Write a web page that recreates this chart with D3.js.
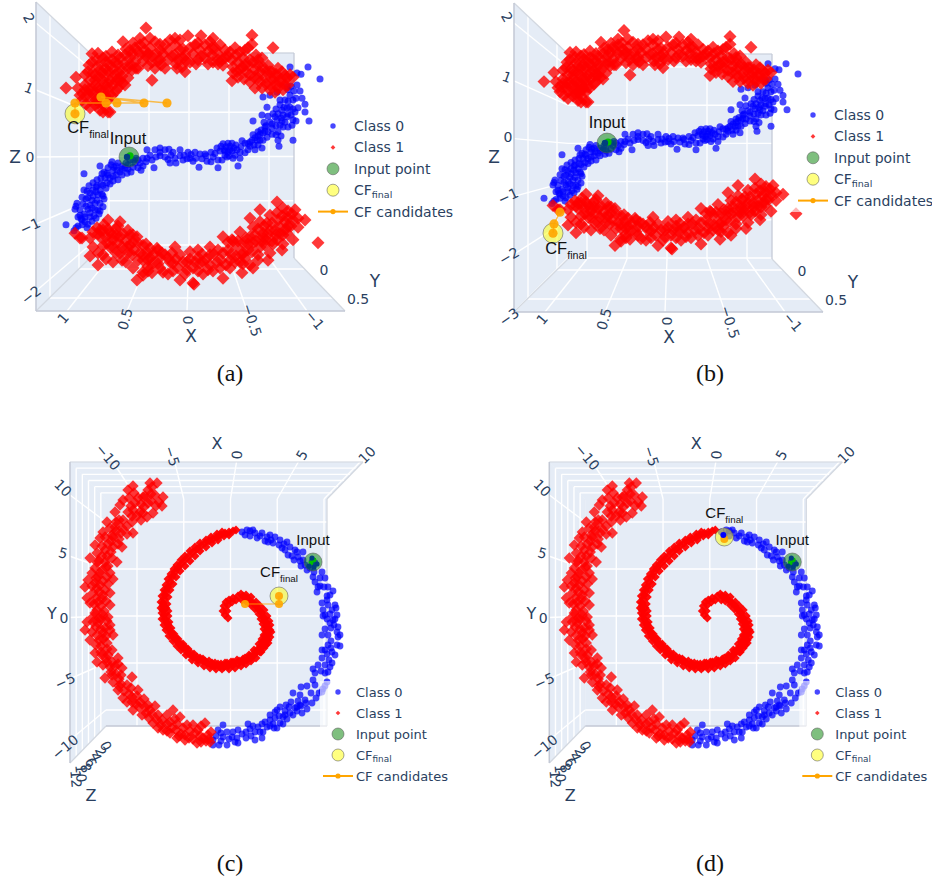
<!DOCTYPE html>
<html><head><meta charset="utf-8">
<script src="https://cdn.jsdelivr.net/npm/d3@7"></script>
<style>html,body{margin:0;padding:0;background:#fff}svg{display:block}</style>
</head><body><div id="chart"></div>
<script>
// ---------- S-curve data: [X, Z] ----------
const sClass0 = [[1.22,-1.13],[1.14,-1.23],[1.12,-1.18],[1.10,-1.15],[1.06,-1.13],[1.03,-1.08],[1.07,-1.03],[1.08,-.97],[1.03,-1.00],[.98,-.93],[.93,-.88],[1.00,-.87],[1.02,-.82],[1.05,-.78],[1.12,-.82],[1.13,-.87],[1.11,-.77],[1.06,-.67],[1.00,-.68],[.95,-.65],[.91,-.72],[.88,-.77],[.85,-.83],[.89,-.95],[.92,-1.02],[.96,-1.07],[1.01,-1.18],[.95,-.55],[1.01,-.57],[1.04,-.55],[.99,-.48],[.95,-.43],[.91,-.48],[.88,-.55],[.85,-.47],[.81,-.43],[.78,-.35],[.75,-.32],[.81,-.27],[.87,-.35],[.91,-.38],[1.04,-.28],[.88,-.15],[.84,-.25],[.80,-.18],[.77,-.13],[.74,-.17],[.71,-.22],[.68,-.25],[.70,-.10],[.66,-.15],[.63,-.18],[.61,-.27],[.57,-.25],[.55,-.17],[.60,-.13],[.53,-.10],[.50,-.18],[.47,-.22],[.45,-.15],[.50,-.05],[.45,-.02],[.41,.12],[.41,-.02],[.38,.03],[.34,-.18],[.33,.12],[.28,.15],[.28,.02],[.23,0],[.23,.12],[.19,.13],[.17,.03],[.13,-.02],[.18,-.10],[.12,-.10],[.08,.12],[.04,.03],[.05,-.05],[0,.08],[-.02,-.02],[-.05,-.07],[-.11,-.17],[-.07,.08],[-.12,.05],[-.17,.05],[-.19,-.07],[-.23,-.08],[-.23,.08],[-.30,-.18],[-.29,.15],[-.34,-.05],[-.37,.03],[-.40,.23],[-.42,.12],[-.45,-.02],[-.50,-.15],[-.52,-.02],[-.57,.23],[-.60,.12],[-.67,.12],[-.70,.20],[-.74,.15],[-.75,.28],[-.77,.43],[-.72,.38],[-.67,.32],[-.62,.25],[-.49,.12],[-.53,.17],[-.57,.07],[-.38,.17],[-.44,.23],[-.91,.18],[-.90,.28],[-1.05,.28],[-.65,.60],[-.74,.70],[-.79,.83],[-.75,1.00],[-.82,1.03],[-.89,1.08],[-.99,1.17],[-1.02,1.50],[-1.20,1.50],[-1.32,1.30],[-1.13,1.38],[-1.09,1.40],[-1.09,1.20],[-1.14,.98],[-1.17,.88],[-1.10,.82],[-1.17,.75],[-1.21,.60],[-1.05,.62],[-1.04,.53],[-.95,.50],[-.90,.42],[-.99,.67],[-1.02,.83],[-.97,.95],[-.94,.78],[-.87,.67],[-.82,.58],[-.77,.50],[-.70,.42],[-.65,.37],[-.69,.28],[-.79,.33],[-.75,.40],[-.89,.62],[-.95,.70],[-.99,.82],[-.92,.87],[-1.02,1.03],[-1.05,.95],[-1.00,1.12],[-1.07,.75],[-.97,.58],[-.92,.53],[-.84,.48],[-.80,.42],[-.88,.37],[-.62,.18],[-.70,.35],[-.36,.12],[-.40,.08],[-.44,.10],[-.47,.03],[-.39,0],[-.42,.18],[-.35,.22],[.98,-.80],[.93,-.77],[.90,-.63],[.96,-.72],[.92,-.58],[.83,-.35],[.86,-.28],[.75,-.22],[.72,-.15],[.62,-.10],[.58,-.05],[.52,-.02],
[.98,-.6],[.96,-.85],[.94,-.98],[.98,-1.0],[1.04,-.95],[1.0,-1.12],[1.06,-1.05],[1.08,-.88],[.92,-.5],[.86,-.62],[.84,-.7],[.82,-.52],[.78,-.45],[.75,-.4],[.7,-.38],[.72,-.3],[.66,-.3],[.66,-.2],[.6,-.2],[.55,-.05],[.48,-.1],[.42,-.08],[.36,-.05],[.32,0],[.28,.08],[.2,-.04],[.15,.08],[.08,.02],[.01,-.03],[-.03,.04],[-.08,-.02],[-.14,-.03],[-.18,.02],[-.25,0],[-.27,.06],[-.3,-.05],[-.32,.1],[-.33,.18],[-.37,.1],[-.41,.02],[-.46,.15],[-.48,.2],[-.52,.08],[-.54,.27],[-.6,.22],[-.64,.28],[-.66,.2],[-.72,.28],[-.73,.45],[-.78,.52],[-.84,.55],[-.85,.72],[-.88,.8],[-.9,.72],[-.93,.65],[-.96,.83],[-1.0,.72],[-1.0,.93],[-1.03,.7],[-1.05,.8],[-1.08,.98],[-1.06,1.1],[-1.03,1.18],[-.94,.6],[-.88,.52],[-.84,.38],[-.76,.58],[-.8,.68],[-.92,.95],[-1.12,1.1],[-1.08,.6],[-1.0,.5],[-.93,.35],[.88,-.9],[.85,-.65],[.87,-.45],[.8,-.3],[.76,-.08],[.9,-.88],[1.02,-.7],[1.1,-1.0]];
const sClass1Upper = [[.42,2.15],[1.22,1.15],[1.12,1.33],[.96,1.72],[.99,1.53],[.65,1.92],[.36,1.28],[-.44,1.27],[0,2.02],[-.13,2.02],[-.64,2.03],[-.85,1.82],[-.64,1.88],[-.68,1.70],[1.08,1.03],[1.03,1.12],[.98,.95],[.93,.87],[.88,.78],[.80,.75],[.85,.87],[.80,.95],[.76,1.03],[.70,1.15],[.63,1.20],[.68,1.28],[.73,1.37],[.78,1.28],[.83,1.20],[.88,1.12],[.93,1.20],[.98,1.28],[1.03,1.20],[1.10,1.15],[.93,1.37],[.88,1.45],[.83,1.48],[.78,1.53],[.73,1.58],[.68,1.65],[.63,1.70],[.58,1.78],[.53,1.82],[.48,1.87],[.43,1.78],[.38,1.82],[.33,1.92],[.28,1.78],[.23,1.87],[.18,1.95],[.13,1.87],[.08,1.78],[.03,1.70],[-.02,1.82],[-.07,1.87],[-.12,1.78],[-.17,1.87],[-.22,1.92],[-.27,1.82],[-.32,1.87],[-.37,1.78],[-.42,1.75],[-.47,1.82],[-.52,1.75],[-.57,1.78],[-.62,1.62],[-.70,1.53],[-.74,1.65],[-.80,1.53],[-.84,1.42],[-.90,1.48],[-.94,1.42],[-.99,1.32],[-1.02,1.37],[-.92,1.25],[-.87,1.32],[-.82,1.20],[-.77,1.32],[-.70,1.32],[-.67,1.45],[-.62,1.37],[-.57,1.53],[-.52,1.45],[-.50,1.58],[-.44,1.62],[-.37,1.65],[-.30,1.62],[-.24,1.70],[-.17,1.65],[-.10,1.62],[-.02,1.58],[.05,1.65],[.13,1.70],[.20,1.62],[.28,1.62],[.36,1.58],[.33,1.48],[.23,1.48],[.48,1.70],[.53,1.58],[.60,1.48],[.66,1.45],[.80,1.37],[.88,1.32],[1.00,1.42],[.96,1.58],[.91,1.62],[.85,1.65],[.76,1.75],[.58,1.65],[.50,1.48],[.90,1.03],[1.02,.88],[1.06,.95],[.83,1.03],[.88,.95],[-.74,1.15],[-.82,1.12],[-.90,1.15],[-.97,1.20],[-1.05,1.33],[-.60,1.82],[-.25,1.98],[.08,1.95],[.48,1.98],[.38,1.98],[.90,1.73],[1.03,1.37],[.85,.75],[.78,.75],[.98,.82],[.13,1.98],[-.35,1.53],[-.67,1.15],[-.62,1.25],[-.49,1.42],[-.54,1.50],[-.87,1.08],[-1.00,1.20],[-.25,1.58],[.03,1.42],[.11,1.48],
[.95,1.05],[.90,1.15],[.85,1.10],[.80,1.15],[.75,1.20],[.72,1.10],[.78,1.05],[.84,1.0],[.92,.95],[.96,1.13],[1.0,1.05],[.9,.9],[.85,.95],[.93,1.28],[.86,1.28],[.8,1.22],[.72,1.28],[.66,1.35],[.6,1.32],[.56,1.45],[.7,1.42],[.75,1.47],[.8,1.43],[.86,1.4],[.9,1.52],[.82,1.58],[.76,1.62],[.7,1.55],[.64,1.55],[.58,1.55],[.52,1.48],[.45,1.6],[.42,1.68],[.56,1.72],[.5,1.76],[.44,1.9],[.4,1.72],[.36,1.68],[.32,1.72],[.28,1.88],[.25,1.72],[.2,1.78],[.16,1.68],[.1,1.62],[.05,1.8],[.02,1.6],[-.05,1.72],[-.08,1.55],[-.13,1.68],[-.2,1.76],[-.24,1.82],[-.3,1.72],[-.34,1.62],[-.4,1.68],[-.45,1.5],[-.48,1.7],[-.55,1.65],[-.58,1.42],[-.6,1.53],[-.65,1.58],[-.72,1.42],[-.75,1.5],[-.78,1.42],[-.84,1.3],[-.88,1.38],[-.93,1.3],[-.97,1.36],[-.78,1.22],[-.72,1.25],[-.66,1.33],[-.56,1.3],[-.5,1.33],[-.45,1.4],[.12,1.55],[.27,1.53],[.4,1.52],[.06,1.5],[-.2,1.55],[.66,1.22],[.7,1.7],[.62,1.8],[.7,1.3],[.99,1.13],[.95,1.4],[1.05,1.05],[.82,1.68],[.55,1.9],[.3,1.6],[-.1,1.9],[-.3,1.55],[-.88,1.22],[-.95,1.12],[-.82,1.42],[-.7,1.62]];
const sClass1Lower = [[1.13,-1.27],[1.06,-1.35],[.98,-1.35],[.98,-1.65],[.90,-1.80],[.85,-1.63],[.75,-1.75],[.66,-1.72],[.68,-1.08],[.80,-1.05],[.91,-1.18],[.88,-1.33],[.81,-1.43],[.75,-1.50],[.76,-1.30],[.68,-1.33],[.60,-1.22],[.51,-1.33],[.45,-1.47],[.58,-1.47],[.66,-1.50],[.56,-1.63],[.45,-1.72],[.38,-1.68],[.31,-1.52],[.13,-1.50],[.25,-1.92],[.36,-1.93],[.51,-2.05],[.45,-1.97],[.08,-2.05],[.01,-1.75],[.18,-1.75],[.28,-1.68],[.40,-1.83],[-.05,-2.10],[-.02,-1.58],[-.10,-1.67],[-.22,-1.50],[-.35,-1.33],[-.44,-1.38],[-.52,-1.25],[-.62,-1.02],[-.72,-.88],[-.89,-.75],[-1.07,-.88],[-1.17,-1.05],[-1.10,-1.17],[-1.05,-1.38],[-1.30,-1.43],[-.94,-1.55],[-.82,-1.60],[-.65,-1.85],[-.54,-1.93],[-.35,-2.02],[-.62,-1.80],[.01,-1.88],[-.15,-1.75],[-.29,-1.75],[-.42,-1.72],[-.55,-1.60],[-.65,-1.43],[-.75,-1.33],[-.89,-1.38],[-.99,-1.27],[-.79,-1.10],[-.89,-.93],[-.99,-1.00],[-.75,-1.27],[-.62,-1.33],[-.49,-1.50],[-.35,-1.60],[-.22,-1.63],[-.65,-1.17],[-.95,-.85],[-1.05,-1.05],[-.92,-1.17],[-.82,-1.22],[-.72,-1.50],[-.55,-1.43],[-.12,-1.77],[.15,-1.77],[.35,-1.77],[.30,-1.55],[.45,-1.63],[.61,-1.50],[.75,-1.38],[.88,-1.22],[1.08,-1.35],[-.06,-2.12],[.45,-1.92],[.38,-1.52],[.23,-1.63],[.08,-1.63],[-.07,-1.75],[-.22,-1.80],[-.32,-1.85],[-.47,-1.75],[-.57,-1.68],[-.70,-1.63],[-.77,-1.47],[-.87,-1.22],[-.97,-1.08],[-.82,-.97],[-.72,-1.08],[-.54,-1.63],[-.67,-1.30],[.58,-1.30],[.72,-1.20],[.84,-1.13],[.55,-1.42],[.48,-1.60],[.40,-1.60],[.15,-1.90],[-.15,-1.95],[-.25,-1.90],[-.85,-1.45],[-.95,-1.30],[-1.00,-1.15],[-.88,-1.30],[-.78,-1.38],[-.60,-1.55],[-.40,-1.55],[-.45,-1.40],
[.9,-1.28],[.85,-1.22],[.8,-1.2],[.82,-1.33],[.78,-1.25],[.72,-1.3],[.7,-1.42],[.78,-1.5],[.72,-1.6],[.68,-1.6],[.62,-1.4],[.65,-1.28],[.55,-1.3],[.5,-1.43],[.54,-1.55],[.6,-1.6],[.5,-1.72],[.42,-1.45],[.4,-1.72],[.34,-1.62],[.3,-1.78],[.26,-1.6],[.2,-1.68],[.16,-1.6],[.12,-1.7],[.1,-1.85],[.05,-1.75],[.03,-1.95],[-.02,-1.7],[-.05,-1.85],[-.1,-1.9],[-.14,-1.62],[-.18,-1.7],[-.2,-1.88],[-.26,-1.62],[-.3,-1.55],[-.33,-1.72],[-.38,-1.8],[-.4,-1.42],[-.43,-1.62],[-.48,-1.65],[-.5,-1.4],[-.52,-1.75],[-.58,-1.35],[-.6,-1.45],[-.64,-1.58],[-.68,-1.4],[-.7,-1.2],[-.74,-1.4],[-.76,-1.15],[-.8,-1.28],[-.84,-1.1],[-.84,-1.4],[-.9,-1.05],[-.92,-1.28],[-.94,-.98],[-.98,-1.2],[-1.0,-.9],[-1.03,-1.15],[-1.1,-1.02],[-1.04,-.95],[-.95,-1.45],[.95,-1.25],[.7,-1.15],[.62,-1.75],[.85,-1.48],[.9,-1.6],[.95,-1.5],[.82,-1.7],[.55,-1.85],[.4,-1.9],[.28,-1.85],[.2,-1.95],[-.1,-1.55],[-.42,-1.85],[-.55,-1.78],[-.7,-1.72],[-.8,-1.72]];
const sInput = [[.59,0],[.59,-.05]];
const sInputCore = [[.58,.02],[.58,-.03]];
const sInputDot = [[.61,0],[.61,-.05]];
const sCandidatesA = [[.21,.90],[.87,1.00],[.44,.90],[.71,.90],[.82,.90],[1.13,.90],[1.13,.72]];
const sCandidatesB = [[1.06,-1.40],[1.12,-1.63],[1.13,-1.81]];
const sTicksX = [1,.5,0,-.5,-1];
const sTicksXLabels = ["1","0.5","0","\u22120.5","\u22121"];
const sTicksY = [0,.5];
const sTicksZA = [2,1,0,-1,-2];
const sTicksZB = [2,1,0,-1,-2,-3];

// ---------- spiral data: [X, Y] ----------
const spClass0 = [[1.1,8.4],[1.9,8.5],[1.4,8.1],[2.4,8.3],[3.1,8.3],[3.6,7.9],[3.9,8.1],[4.4,7.9],[3.4,7.5],[4.2,7.3],[4.9,7.6],[5.6,7.4],[5.1,6.8],[5.9,6.9],[6.4,6.6],[5.7,6.1],[6.1,6.0],[7.2,6.4],[7.2,5.6],[7.4,5.1],[8.1,5.4],[8.4,5.3],[7.6,4.6],[8.2,3.9],[8.4,3.4],[9.1,4.4],[9.4,3.8],[8.6,2.4],[9.7,2.9],[10.2,2.5],[9.9,2.1],[9.6,1.6],[9.1,1.3],[10.4,1.1],[9.2,.6],[10.1,.6],[10.6,.1],[9.4,.1],[10.2,-.4],[10.7,-1.1],[9.4,-1.3],[9.1,-1.9],[9.7,-1.9],[10.9,-1.9],[10.7,-2.1],[9.7,-2.9],[9.1,-3.4],[10.6,-2.9],[10.9,-3.0],[10.1,-3.6],[10.4,-3.9],[9.1,-4.2],[10.1,-4.7],[9.4,-4.9],[8.7,-4.9],[8.2,-5.3],[9.4,-5.7],[9.7,-5.6],[8.2,-6.4],[7.6,-7.0],[8.4,-6.9],[7.0,-7.1],[6.2,-7.7],[6.9,-7.9],[8.8,-7.7],[8.5,-8.2],[8.1,-8.7],[7.6,-9.3],[6.7,-8.5],[6.0,-8.6],[6.4,-9.2],[4.9,-9.1],[4.6,-9.4],[7.1,-9.7],[5.9,-9.7],[5.2,-10.1],[4.4,-10.2],[6.2,-9.9],[3.9,-10.4],[4.9,-10.7],[4.6,-11.2],[3.6,-11.1],[2.7,-11.1],[3.2,-11.6],[2.4,-11.6],[3.1,-12.2],[2.4,-12.4],[1.7,-10.8],[1.5,-11.6],[1.5,-12.2],[.7,-11.4],[.1,-12.1],[.7,-12.7],[-.4,-12.9],[-1.2,-12.9],[-.8,-10.9],[-1.3,-11.4],[-.8,-12.1],[-1.8,-12.4],[-1.8,-12.9],[.2,-11.6],[.4,-12.6],[5.4,-9.5],[5.6,-10.3],[6.6,-9.5],[4.8,-10.0],[4.2,-10.8],[5.2,-10.8],[3.9,-11.0],[6.9,-8.9],[8.0,-7.7],[7.4,-8.4],[10.0,-1.2],[9.6,-.3],[9.9,.2],[10.3,-.9],[10.5,.8],[9.7,1.1],[8.7,2.9],[9.6,-3.8],[10.0,-3.2],[9.9,-5.1],[4.0,7.6],[5.3,7.2],[6.7,5.9],[6.6,6.4],[7.9,4.8],[8.9,3.8],[2.9,8.0],[1.6,8.6],[2.2,8.6],[9.6,-6.6],[9.4,-7.0],[9.2,-7.3],[9.1,-7.6],
[7.5,-8.7],[7.0,-9.0],[5.8,-9.1],[5.5,-8.9],[4.4,-9.6],[3.9,-9.9],[3.4,-10.6],[3.1,-10.8],[2.9,-11.6],[2.2,-11.0],[1.9,-11.3],[1.1,-11.8],[.6,-12.2],[-.2,-12.3],[-.4,-11.6],[-1.0,-12.5],[-1.5,-12.0],[-1.0,-11.7],[2.0,-12.0],[4.3,-11.2],[5.4,-9.9],[6.6,-9.1],[8.4,-5.7],[9.0,-5.5],[9.8,-4.4],[9.4,-3.4],[10.6,-1.6],[10.0,-2.5],[9.9,-.7],[10.4,-.3],[9.2,0],[9.6,2.0],[9.3,2.9],[8.9,3.0],[8.3,4.4],[7.0,5.0],[6.9,5.5],[6.3,5.6],[5.4,6.6],[4.8,7.1],[3.7,7.4],[2.6,7.8],[1.9,8.0]];
const spClass1Inner = [[-.3,-.2],[-.6,.1],[-.8,.5],[-.7,1.0],[-.5,1.4],[-.2,1.6],[.2,1.8],[.7,2.0],[1.2,2.0],[1.6,1.8],[1.9,1.5],[2.2,1.3],[2.5,1.0],[2.8,.6],[3.1,.3],[3.3,-.2],[3.5,-.6],[3.7,-1.1],[3.7,-1.6],[3.6,-2.0],[3.4,-2.4],[3.2,-2.8],[3.0,-3.2],[2.6,-3.6],[2.3,-3.9],[2.0,-4.2],[1.6,-4.4],[1.2,-4.6],[.7,-4.8],[.2,-4.9],[-.3,-5.0],[-.7,-5.1],[-1.1,-5.1],[-1.6,-5.0],[-2.0,-4.9],[-2.4,-4.7],[-2.8,-4.5],[-3.3,-4.4],[-3.8,-4.1],[-4.2,-3.8],[-4.6,-3.4],[-4.9,-3.1],[-5.2,-2.8],[-5.5,-2.4],[-5.8,-2.1],[-6.0,-1.7],[-6.2,-1.3],[-6.4,-.7],[-6.6,-.3],[-6.7,.1],[-6.8,.6],[-6.8,1.0],[-6.8,1.3],[-6.7,1.7],[-6.6,2.1],[-6.5,2.5],[-6.3,2.9],[-6.1,3.4],[-5.9,3.9],[-5.6,4.4],[-5.3,4.8],[-5.0,5.2],[-4.6,5.6],[-4.2,6.0],[-3.8,6.4],[-3.4,6.7],[-3.0,7.0],[-2.6,7.3],[-2.2,7.5],[-1.8,7.7],[-1.4,7.9],[-1.0,8.1],[-.6,8.3],[-.2,8.4],[.2,8.5],[.5,8.6],[-6.9,.3],[-7.0,.8],[-7.0,1.4],[-6.9,2.0],[-6.7,2.6],[-6.5,3.1],[-6.3,3.7],[-6.0,4.2],[-5.7,4.7],[-5.4,5.1],[-5.0,5.6],[-4.6,6.0],[-4.1,6.5],[-3.6,6.9],[-3.1,7.3],[-2.5,7.6],[-2.0,7.9],[-1.4,8.2],[-.9,8.4],[-6.3,.5],[-6.4,1.2],[-6.3,1.9],[-6.1,2.6],[-5.8,3.2],[-5.5,3.9],[-5.1,4.5],[-4.6,5.0],[-4.1,5.5],[-3.6,6.0],[-3.1,6.5],[-2.5,6.9],[-1.9,7.3],[-1.3,7.6],[-.7,8.0],[-.2,8.1],[-6.3,-.9],[-5.9,-1.7],[-5.5,-2.2],[-5.0,-2.8],[-4.5,-3.2],[-4.0,-3.7],[-3.4,-4.1],[-2.8,-4.3],[-2.2,-4.5],[-1.6,-4.7],[-1.0,-4.8],[-.4,-4.7],[.2,-4.6],[.8,-4.5],[1.4,-4.2],[1.9,-4.0],[2.4,-3.6],[2.8,-3.2],[3.1,-2.6],[3.4,-2.0],[3.5,-1.5],[3.5,-1.0],[3.3,-.5],[3.9,-1.4],[3.9,-.9],[3.7,-2.4],[3.5,-2.9],[2.9,-3.6],
[-.4,.5],[-.3,1.1],[.1,1.4],[.5,1.6],[1.1,1.6],[1.5,1.5],[2.0,1.1],[2.4,.7],[2.8,.2],[3.0,-.3],[3.2,-.8],[3.3,-1.3],[3.3,-1.9],[3.1,-2.3],[2.8,-2.8],[2.3,-3.4],[1.8,-3.9],[1.2,-4.3],[.6,-4.4],[0,-4.6],[-.6,-4.7],[-1.3,-4.8],[-1.9,-4.7],[-2.6,-4.5],[-3.1,-4.2],[-3.7,-3.8],[-4.3,-3.3],[-4.8,-2.8],[-5.3,-2.3],[-5.7,-1.8],[-6.0,-1.2],[-6.2,-.6],[-6.3,0],[-6.5,.8],[1.0,2.2],[1.5,2.1],[2.0,1.9],[2.5,1.4],[2.9,1.0],[3.3,.6],[3.6,0],[3.8,-.5],[4.0,-1.6],[3.9,-2.1],[3.7,-2.7],[3.3,-3.2],[3.0,-3.6],[2.5,-4.2],[2.0,-4.5],[1.5,-4.8],[1.0,-5.0],[.4,-5.2],[-.2,-5.3],[-.9,-5.3],[-1.5,-5.3],[-2.1,-5.2],[-2.7,-5.0],[-3.3,-4.7],[-3.9,-4.4],[-4.5,-3.9],[-5.0,-3.4],[-5.4,-3.0],[-5.8,-2.5],[-6.2,-2.0],[-6.5,-1.4],[-6.7,-.9],[-6.9,-.3]];
const spClass1Outer = [[-8.1,13.3],[-7.4,13.3],[-9.8,13.0],[-10.3,12.6],[-6.8,11.9],[-7.6,12.1],[-8.3,12.6],[-8.3,11.3],[-6.9,11.0],[-7.8,10.3],[-8.4,9.9],[-9.1,10.4],[-9.3,11.8],[-9.6,11.3],[-10.8,11.6],[-11.6,10.4],[-11.1,11.1],[-10.3,10.4],[-9.9,9.4],[-9.8,8.3],[-10.8,9.6],[-10.9,8.8],[-12.4,9.4],[-12.1,8.8],[-12.8,8.4],[-13.1,7.8],[-11.9,8.1],[-10.9,6.9],[-11.8,6.9],[-13.6,7.1],[-12.6,6.6],[-13.4,6.3],[-14.1,5.8],[-12.6,5.4],[-11.9,5.8],[-11.4,5.4],[-13.6,4.8],[-12.9,4.6],[-13.9,4.3],[-12.1,4.3],[-11.8,3.7],[-14.3,3.6],[-14.6,2.9],[-13.6,3.3],[-13.1,3.1],[-12.6,2.6],[-12.1,2.3],[-13.8,2.3],[-14.4,1.8],[-14.1,1.3],[-13.3,1.4],[-12.1,1.1],[-13.4,.6],[-12.3,-.1],[-13.8,-.1],[-13.6,.3],[-14.4,-.6],[-14.6,-1.4],[-13.9,-1.6],[-14.1,-2.4],[-13.3,-.7],[-12.1,-.9],[-11.8,-1.9],[-12.8,-1.7],[-12.4,-2.7],[-11.9,-3.4],[-11.3,-4.2],[-13.6,-3.7],[-13.4,-4.6],[-12.9,-3.9],[-12.8,-4.9],[-12.1,-5.1],[-10.9,-5.2],[-12.6,-6.2],[-11.9,-5.9],[-11.8,-6.6],[-9.9,-6.1],[-10.4,-6.9],[-9.3,-7.4],[-11.3,-7.4],[-10.8,-8.2],[-9.9,-8.1],[-9.1,-8.6],[-9.8,-9.4],[-8.9,-9.9],[-8.1,-9.4],[-8.6,-9.1],[-7.3,-9.9],[-6.9,-10.4],[-7.8,-10.7],[-7.3,-11.2],[-5.8,-9.4],[-5.1,-10.1],[-6.1,-10.6],[-5.9,-11.2],[-6.8,-11.4],[-5.4,-12.2],[-4.6,-11.9],[-3.8,-10.9],[-2.6,-10.7],[-3.3,-11.4],[-3.4,-12.7],[-2.8,-12.2],[-2.1,-12.6],[-4.6,-12.4],[-6.1,-11.7],[-8.7,10.9],[-8.0,11.5],[-9.4,10.0],[-10.0,11.0],[-11.2,9.6],[-11.5,8.5],[-12.0,7.5],[-12.6,7.9],[-11.2,7.7],[-12.4,6.0],[-13.2,5.5],[-12.5,4.9],[-13.3,3.9],[-12.8,3.5],[-13.2,2.4],[-12.9,1.7],[-13.7,1.2],[-12.7,.5],[-13.0,-.3],[-13.5,-1.1],[-12.6,-1.2],[-13.2,-2.4],[-12.5,-2.0],[-13.0,-3.0],[-12.3,-3.9],[-12.4,-4.6],[-11.6,-5.0],[-11.2,-6.3],[-11.0,-6.8],[-10.7,-7.5],[-10.0,-7.2],[-10.4,-8.6],[-9.5,-8.8],[-8.7,-8.3],[-8.2,-10.2],[-7.6,-9.0],[-6.4,-9.9],[-5.4,-10.8],[-4.8,-11.2],[-4.1,-11.5],[-3.8,-12.3],[-3.1,-12.0],[-2.3,-11.9],[-2.0,-11.6],[-5.2,-12.0],
[-8.8,11.9],[-8.0,12.2],[-7.9,12.9],[-8.6,12.0],[-9.0,11.2],[-9.8,10.6],[-9.0,9.6],[-9.9,10.0],[-10.4,9.0],[-10.4,8.2],[-11.0,8.3],[-11.5,9.4],[-11.8,7.9],[-12.3,7.2],[-11.3,7.2],[-12.9,7.0],[-12.9,6.0],[-12.0,6.4],[-13.4,5.4],[-12.3,5.0],[-13.1,4.3],[-13.5,3.8],[-12.4,3.9],[-12.3,3.2],[-13.9,3.0],[-13.4,2.8],[-12.8,2.1],[-13.5,1.8],[-12.5,1.5],[-13.0,1.0],[-12.8,.1],[-13.2,-.2],[-13.8,-.6],[-12.4,-.5],[-13.0,-1.3],[-13.4,-1.9],[-12.1,-1.4],[-12.8,-2.3],[-13.5,-2.9],[-12.4,-3.3],[-13.0,-3.6],[-12.5,-4.2],[-11.9,-4.6],[-11.3,-4.8],[-12.0,-5.6],[-11.5,-5.8],[-11.0,-5.9],[-11.2,-7.0],[-10.2,-7.8],[-9.9,-8.6],[-9.4,-8.0],[-9.2,-9.1],[-8.3,-8.9],[-8.5,-9.7],[-7.9,-9.8],[-7.4,-10.4],[-7.0,-10.9],[-6.4,-10.8],[-6.4,-11.5],[-5.6,-10.3],[-5.5,-11.4],[-5.0,-11.8],[-4.4,-10.9],[-4.2,-12.2],[-3.6,-11.7],[-3.0,-11.0],[-3.0,-12.6],[-2.5,-12.5],[-2.2,-12.3],[-10.2,11.8],[-9.7,12.3],[-7.2,11.4],[-7.5,11.0],[-8.8,10.3],[-11.6,8.9]];
const spInput = [8.2,5.4];
const spInputCore = [[8.0,5.3],[8.3,5.6]];
const spInputDots = [[8.1,5.8],[8.6,5.2],[7.8,5.0],[8.3,4.9]];
const spCandidatesC = [[1.4,1.2],[4.8,1.2],[4.8,2.0]];
const spCandidatesD = [[1.4,7.7]];
const spFinalD = [1.4,7.9];
const spFinalDot = [1.3,8.1];
const spTicksXY = [-10,-5,0,5,10];
const spTicksZ = [0,2,4,6,8,10,12];

const legendLabels = ["Class 0","Class 1","Input point","CF","CF candidates"];

// ---------- palette ----------
const wallColor = "#E5ECF6", axisText = "#2a3f5f", edgeDark = "#c3c9d5", edgeLight = "#d3d8e0";
const blue = "rgba(0,0,255,0.72)", red = "rgba(255,0,0,0.78)", orange = "rgba(255,165,0,0.9)";
const tickFont = "DejaVu Sans, Verdana, sans-serif", noteFont = "Liberation Sans, Arial, sans-serif";

const svg = d3.select("#chart").append("svg").attr("width",936).attr("height",882);
const fmtTick = v => String(v).replace("-","\u2212");
const diamond = s => d3.symbol().type(d3.symbolSquare).size(s)();

function lines(g, segs, stroke="#fff", w=1.4){
  g.append("g").selectAll("line").data(segs).join("line")
    .attr("x1",d=>d[0][0]).attr("y1",d=>d[0][1]).attr("x2",d=>d[1][0]).attr("y2",d=>d[1][1])
    .attr("stroke",stroke).attr("stroke-width",w);
}
function poly(g, pts, fill=wallColor){
  g.append("path").attr("d",d3.line()(pts)+"Z").attr("fill",fill).attr("stroke",fill).attr("stroke-width",.5);
}
function circles(g,data,x,y,r,fill){
  g.append("g").selectAll("circle").data(data).join("circle")
    .attr("cx",d=>x(d[0])).attr("cy",d=>y(d[1])).attr("r",r).attr("fill",fill);
}
function diamonds(g,data,x,y,size,fill){
  g.append("g").selectAll("path").data(data).join("path").attr("d",diamond(size))
    .attr("transform",d=>`translate(${x(d[0])},${y(d[1])}) rotate(45)`).attr("fill",fill);
}
function label(g,x,y,t,rot,size=14,fill=axisText,font=tickFont){
  g.append("text").attr("transform",`translate(${x},${y}) rotate(${rot||0})`)
    .attr("text-anchor","middle").attr("dominant-baseline","central")
    .attr("font-family",font).attr("font-size",size).attr("fill",fill).text(t);
}
function cfNote(g,x,y,size=16.5){
  const t=g.append("text").attr("x",x).attr("y",y).attr("text-anchor","middle")
    .attr("font-family",noteFont).attr("font-size",size).attr("fill","#111");
  t.append("tspan").text("CF");
  t.append("tspan").text("final").attr("font-size",size*.65).attr("dy",size*.3);
}
function inputNote(g,x,y,size=16.5){
  g.append("text").attr("x",x).attr("y",y).attr("text-anchor","middle")
    .attr("font-family",noteFont).attr("font-size",size).attr("fill","#111").text("Input");
}
function halo(g,cx,cy,r,fill){
  g.append("circle").attr("cx",cx).attr("cy",cy).attr("r",r).attr("fill",fill)
    .attr("stroke","rgba(90,90,90,0.55)").attr("stroke-width",1);
}
function legend(g,o){
  g.append("rect").attr("x",o.bg[0]).attr("y",o.bg[1]).attr("width",o.bg[2]).attr("height",o.bg[3])
    .attr("fill","#fff").attr("opacity",.62);
  const y=i=>o.y0+i*o.dy;
  g.append("circle").attr("cx",o.mx).attr("cy",y(0)).attr("r",2.7).attr("fill",blue);
  g.append("path").attr("d",diamond(11)).attr("transform",`translate(${o.mx},${y(1)}) rotate(45)`).attr("fill",red);
  halo(g,o.mx,y(2),6,"rgba(0,128,0,0.5)");
  halo(g,o.mx,y(3),6,"rgba(255,255,0,0.5)");
  g.append("line").attr("x1",o.mx-15).attr("x2",o.mx+15).attr("y1",y(4)).attr("y2",y(4)).attr("stroke","#ffa500").attr("stroke-width",2);
  g.append("circle").attr("cx",o.mx).attr("cy",y(4)).attr("r",2.6).attr("fill","#ffa500");
  legendLabels.forEach((t,i)=>{
    const e=g.append("text").attr("x",o.tx).attr("y",y(i)).attr("dominant-baseline","central")
      .attr("font-family",tickFont).attr("font-size",o.fs).attr("fill",axisText).attr("clip-path",o.clip||null).text(t);
    if(i===3) e.append("tspan").text("final").attr("font-size",o.fs*.68).attr("dy",o.fs*.28);
  });
}

// ---------- panels (a) and (b) ----------
function sPanel(o){
  const g=svg.append("g").attr("transform",`translate(${o.dx},${o.dy})`);
  const wl=36,wr=345,bl=90,br=294,top=53,bot=258,front=311;
  poly(g,[[wl,2],[bl,top],[bl,bot],[wl,front]]);
  poly(g,[[bl,top],[br,top],[br,bot],[bl,bot]]);
  poly(g,[[wl,front],[wr,front],[br,bot],[bl,bot]]);
  const xBack=d3.scaleLinear().domain([-1,1]).range([269,109]);
  const xFront=d3.scaleLinear().domain([-1,1]).range([307,67]);
  const zBack=d3.scaleLinear().domain(o.zDom).range(o.zBackR);
  const zFront=d3.scaleLinear().domain(o.zDom).range(o.zFrontR);
  const depth=d3.scaleLinear().domain([0,.5]).range([11,40]);
  lines(g,sTicksX.map(v=>[[xBack(v),top],[xBack(v),bot]]));
  lines(g,sTicksX.map(v=>[[xBack(v),bot],[xFront(v),front]]));
  lines(g,o.zTicks.map(v=>[[bl,zBack(v)],[br,zBack(v)]]));
  lines(g,o.zTicks.map(v=>[[bl,zBack(v)],[wl,zFront(v)]]));
  lines(g,sTicksY.map(v=>[[bl-depth(v),top-depth(v)],[bl-depth(v),bot+depth(v)]]));
  lines(g,sTicksY.map(v=>[[bl-depth(v),bot+depth(v)],[br+depth(v),bot+depth(v)]]));
  lines(g,[[[wl,2],[bl,top]],[[bl,bot],[wl,front]],[[br,bot],[wr,front]]],edgeLight,1.2);
  lines(g,[[[200,top],[br,top]],[[br,top],[br,bot]]],edgeDark,1.2);
  lines(g,[[[wl,2],[wl,front]],[[wl,front],[wr,front]]],edgeDark,1.5);
  // points
  const x=d3.scaleLinear().domain([-1,1]).range([288,88]);
  const z=d3.scaleLinear().domain([-2,2]).range(o.zPts);
  circles(g,sClass0,x,z,3.5,blue);
  diamonds(g,sClass1Upper,x,z,84,red);
  diamonds(g,sClass1Lower,x,z,84,red);
  circles(g,[sInputCore[o.i]],x,z,3.6,"#00ff00");
  circles(g,[sInputDot[o.i]],x,z,3.2,"#0000ff");
  const inp=sInput[o.i], cand=o.cand, fin=cand[cand.length-1];
  halo(g,x(inp[0]),z(inp[1]),10,"rgba(0,128,0,0.5)");
  halo(g,x(fin[0]),z(fin[1]),10,"rgba(255,255,0,0.5)");
  g.append("path").attr("d",d3.line().x(d=>x(d[0])).y(d=>z(d[1]))(cand)).attr("fill","none").attr("stroke","rgba(255,165,0,0.7)").attr("stroke-width",1.4);
  circles(g,cand,x,z,4.6,orange);
  // text
  o.zTicks.forEach((v,i)=>{ const p=o.zLab[i]; label(g,p[0],p[1],fmtTick(v),p[2]); });
  sTicksXLabels.forEach((t,i)=>{ const p=o.xLab[i]; label(g,p[0],p[1],t,p[2]); });
  label(g,324,270,"0"); label(g,358,299,"0.5");
  label(g,375,281,"Y",0,17);
  label(g,191,336,"X",0,17);
  label(g,o.zTitle[0],o.zTitle[1],"Z",0,17);
  inputNote(g,o.inpNote[0],o.inpNote[1]);
  cfNote(g,o.cfNote[0],o.cfNote[1]);
}
sPanel({dx:0,dy:0,i:0,zDom:[-2,2],zTicks:sTicksZA,zBackR:[245,68],zFrontR:[291,23],zPts:[277,37],cand:sCandidatesA,
  zLab:[[29,18,60],[29,88,20],[30,157,0],[30,226,-25],[31,295,-38]],
  xLab:[[63,318,-50],[125,319,-75],[188,320,-90],[252,320,72],[315,320,50]],
  zTitle:[15,157],inpNote:[128,144],cfNote:[88,133]});
sPanel({dx:478,dy:1,i:1,zDom:[-3,2],zTicks:sTicksZB,zBackR:[257,66],zFrontR:[311,22],zPts:[241.9,37.1],cand:sCandidatesB,
  zLab:[[29,16,60],[29,76,20],[30,136,0],[30,195,-25],[31,255,-30],[31,316,-35]],
  xLab:[[64,318,-50],[126,318,-75],[189,320,-90],[252,321,72],[315,321,50]],
  zTitle:[16,156],inpNote:[129,127],cfNote:[88,253]});

// ---------- panels (c) and (d) ----------
function spPanel(o){
  const g=svg.append("g").attr("transform",`translate(${o.dx},0)`);
  const wl=70,wr=363,bl=106,br=327,top=462,bt=499,bb=726,front=763;
  poly(g,[[wl,top],[wr,top],[br,bt],[bl,bt]]);
  poly(g,[[wl,top],[bl,bt],[bl,bb],[wl,front]]);
  poly(g,[[bl,bt],[br,bt],[br,bb],[bl,bb]]);
  const xBack=d3.scaleLinear().domain([-10,10]).range([137,324]);
  const xFront=d3.scaleLinear().domain([-10,10]).range([113,360]);
  const yBack=d3.scaleLinear().domain([-10,10]).range([710,522]);
  const yFront=d3.scaleLinear().domain([-10,10]).range([740,495]);
  const zDepth=d3.scaleLinear().domain([12,0]).range([0,37]);
  lines(g,spTicksZ.slice(1,6).map(v=>[[wl+zDepth(v),top+zDepth(v)],[wr-zDepth(v),top+zDepth(v)]]));
  lines(g,spTicksZ.slice(1,6).map(v=>[[wl+zDepth(v),top+zDepth(v)],[wl+zDepth(v),front-zDepth(v)]]));
  lines(g,spTicksXY.map(v=>[[xBack(v),bt],[xBack(v),bb]]));
  lines(g,spTicksXY.map(v=>[[xBack(v),bt],[xFront(v),top]]));
  lines(g,spTicksXY.map(v=>[[bl,yBack(v)],[br,yBack(v)]]));
  lines(g,spTicksXY.map(v=>[[bl,yBack(v)],[wl,yFront(v)]]));
  lines(g,[[[wr,top],[br,bt]],[[br,bt],[br,bb]],[[bl,bb],[wl,front]],[[wl,top],[wr,top]]],edgeLight,1.2);
  lines(g,[[[wl,top],[wl,front]],[[bl,bb],[br,bb]]],edgeDark,1.5);
  // points
  const x=d3.scaleLinear().domain([-10,10]).range([131,331]);
  const y=d3.scaleLinear().domain([-10,10]).range([716,516]);
  circles(g,spClass0,x,y,3.4,blue);
  diamonds(g,spClass1Outer,x,y,64,red);
  diamonds(g,spClass1Inner,x,y,40,"rgba(255,0,0,0.95)");
  circles(g,spInputCore,x,y,2.4,"#00ff00");
  circles(g,spInputDots,x,y,2.6,"#0000ff");
  halo(g,x(spInput[0]),y(spInput[1]),9,"rgba(0,128,0,0.5)");
  const fin=o.fin;
  halo(g,x(fin[0]),y(fin[1]),9,"rgba(255,255,0,0.5)");
  if(o.cand.length>1) g.append("path").attr("d",d3.line().x(d=>x(d[0])).y(d=>y(d[1]))(o.cand)).attr("fill","none").attr("stroke","rgba(255,165,0,0.55)").attr("stroke-width",1.6);
  circles(g,o.cand,x,y,4,orange);
  if(o.finalDot) circles(g,[o.finalDot],x,y,3,"#0000ff");
  // labels
  const xl=[[108,457,50],[172,456,72],[237,455,-85],[302,455,-60],[367,455,-45]];
  spTicksXY.forEach((v,i)=>label(g,xl[i][0],xl[i][1],fmtTick(v),xl[i][2]));
  const yl=[[65,747,-40],[65,681,-25],[64,618,0],[63,553,15],[63,488,45]];
  spTicksXY.forEach((v,i)=>label(g,yl[i][0],yl[i][1],fmtTick(v),yl[i][2]));
  const zDx=d3.scaleLinear().domain([0,12]).range([106,76]);
  const zDy=d3.scaleLinear().domain([0,12]).range([746,779]);
  spTicksZ.forEach(v=>label(g,zDx(v),zDy(v),String(v),v>=10?85:65,14));
  label(g,217,443,"X",0,16);
  label(g,52,613,"Y",0,16);
  label(g,91,795,"Z",0,16);
  inputNote(g,313,545,15);
  cfNote(g,o.cfNote[0],o.cfNote[1],15);
}
spPanel({dx:0,fin:[4.8,2.0],cand:spCandidatesC,finalDot:null,cfNote:[279,577]});
spPanel({dx:479.3,fin:spFinalD,cand:spCandidatesD,finalDot:spFinalDot,cfNote:[245,518]});

// ---------- legends (above everything in the panel) ----------
const defs=svg.append("defs");
defs.append("clipPath").attr("id","clipA").append("rect").attr("x",0).attr("y",0).attr("width",453).attr("height",882);
defs.append("clipPath").attr("id","clipB").append("rect").attr("x",468).attr("y",0).attr("width",464).attr("height",882);
legend(svg,{bg:[313,115,141,108],mx:333,tx:354,y0:126,dy:21.4,fs:14,clip:"url(#clipA)"});
legend(svg,{bg:[791,104,141,108],mx:813,tx:834,y0:115,dy:21.4,fs:14,clip:"url(#clipB)"});
legend(svg,{bg:[320,681,130,106],mx:338,tx:356,y0:692,dy:21,fs:13});
legend(svg,{bg:[799.3,681,130,106],mx:817.3,tx:835.3,y0:692,dy:21,fs:13});

// ---------- captions ----------
const captions=[["(a)",230,373],["(b)",710,373],["(c)",230,863],["(d)",710,863]];
captions.forEach(c=>label(svg,c[1],c[2],c[0],0,24,"#111","Liberation Serif, DejaVu Serif, serif"));
</script></body></html>
